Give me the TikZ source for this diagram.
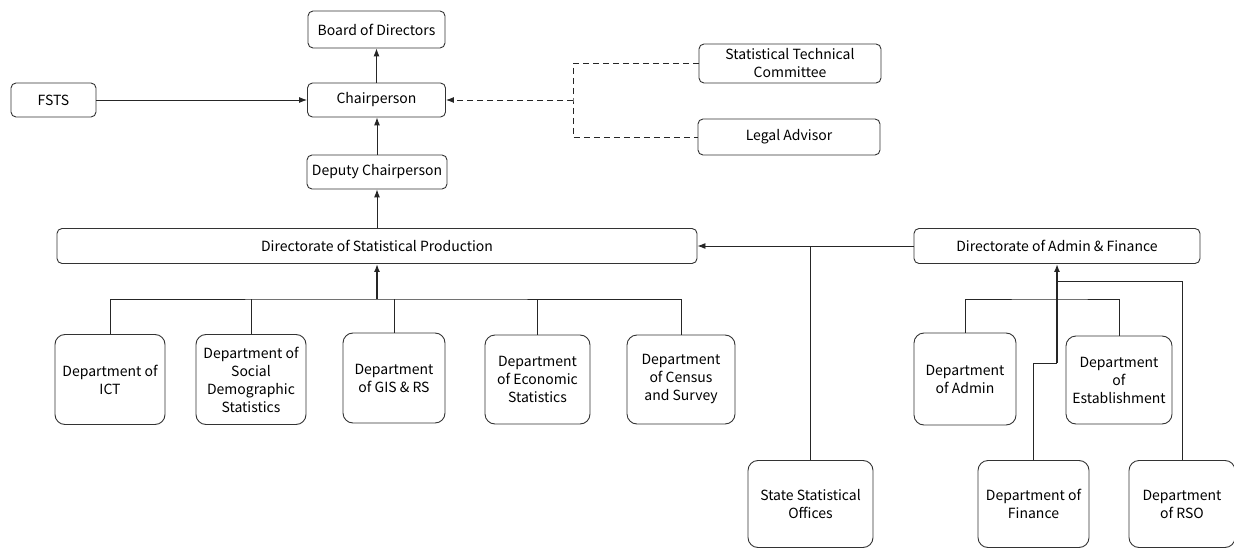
\documentclass[tikz,border=0pt]{standalone}
\usepackage{fontspec}
\setmainfont{Noto Sans CJK JP}
\usetikzlibrary{arrows.meta}
\begin{document}
\begin{tikzpicture}[x=1pt,y=-1pt,
  box/.style={draw=black!80, line width=0.9pt, rounded corners=5pt, align=center,
    inner sep=0pt, font=\fontsize{14}{18}\selectfont},
  dept/.style={box, rounded corners=10pt},
  link/.style={draw=black!85, line width=0.9pt},
  tip/.style={-{Latex[length=8pt,width=6pt]}},
  boldlink/.style={link, line width=1.6pt},
  dashlink/.style={link, dash pattern=on 6pt off 4pt}]
\useasboundingbox (0,0) rectangle (1234,548);

% top of the hierarchy
\node[box, minimum width=137pt, minimum height=37pt] (board) at (376.5,29.5) {Board of Directors};
\node[box, minimum width=138pt, minimum height=34pt] (chair) at (376.5,100) {Chairperson};
\node[box, minimum width=85pt, minimum height=34pt] (fsts) at (53.5,100) {FSTS};
\node[box, minimum width=140pt, minimum height=34pt] (deputy) at (377,172) {Deputy Chairperson};
\node[box, minimum width=182pt, minimum height=39pt] (stc) at (790,63.5) {Statistical Technical\\Committee};
\node[box, minimum width=182pt, minimum height=36pt] (legal) at (789,137) {Legal Advisor};

% directorates
\node[box, minimum width=640pt, minimum height=35pt] (dsp) at (377,246) {Directorate of Statistical Production};
\node[box, minimum width=286pt, minimum height=35pt] (daf) at (1057,246) {Directorate of Admin \& Finance};

% production departments
\node[dept, minimum width=110pt, minimum height=90pt] (ict) at (110,379.5) {Department of\\ICT};
\node[dept, minimum width=110pt, minimum height=90pt] (social) at (251,379.5) {Department of\\Social\\Demographic\\Statistics};
\node[dept, minimum width=102pt, minimum height=90pt] (gis) at (394,378) {Department\\of GIS \& RS};
\node[dept, minimum width=105pt, minimum height=89pt] (econ) at (537.5,379.5) {Department\\of Economic\\Statistics};
\node[dept, minimum width=108pt, minimum height=89pt] (census) at (681,379.5) {Department\\of Census\\and Survey};

% admin & finance departments
\node[dept, minimum width=102pt, minimum height=92pt] (admin) at (965,379) {Department\\of Admin};
\node[dept, minimum width=106pt, minimum height=88pt] (estab) at (1119,380) {Department\\of\\Establishment};
\node[dept, minimum width=125pt, minimum height=87pt] (sso) at (810.5,504) {State Statistical\\Offices};
\node[dept, minimum width=111pt, minimum height=87pt] (finance) at (1033.5,504) {Department of\\Finance};
\node[dept, minimum width=106pt, minimum height=87pt] (rso) at (1182,504) {Department\\of RSO};

% junction points
\coordinate (dj) at (573,100);
\coordinate (pbus) at (377,299);
\coordinate (abus) at (1057,299);
\coordinate (fk) at (1057,363);
\coordinate (rk) at (1057,281);

% upper connectors
\draw[link,tip] (chair.north) -- (chair.north |- board.south);
\draw[link,tip] (deputy.north) -- (deputy.north |- chair.south);
\draw[link,tip] (fsts) -- (chair);
\draw[dashlink] (stc.west) -| (dj) |- (legal.west);
\draw[dashlink,tip] (dj) -- (chair.east);
\draw[link,tip] (dsp.north) -- (dsp.north |- deputy.south);

% production departments to their directorate
\draw[link] (ict.north) |- (pbus) -| (census.north);
\draw[link] (social.north) -- (social.north |- pbus);
\draw[link] (gis.north) -- (gis.north |- pbus);
\draw[link] (econ.north) -- (econ.north |- pbus);
\draw[boldlink,tip] (pbus) -- (pbus |- dsp.south);

% admin & finance side
\draw[link,tip] (daf.west) -- (dsp.east);
\draw[link] (sso.north) -- (sso.north |- daf.west);
\draw[link] (admin.north) |- (abus) -| (estab.north);
\draw[link] (finance.north) |- (fk);
\draw[link] (rso.north) |- (rk);
\draw[boldlink,tip] (fk) -- (fk |- daf.south);
\end{tikzpicture}
\end{document}
